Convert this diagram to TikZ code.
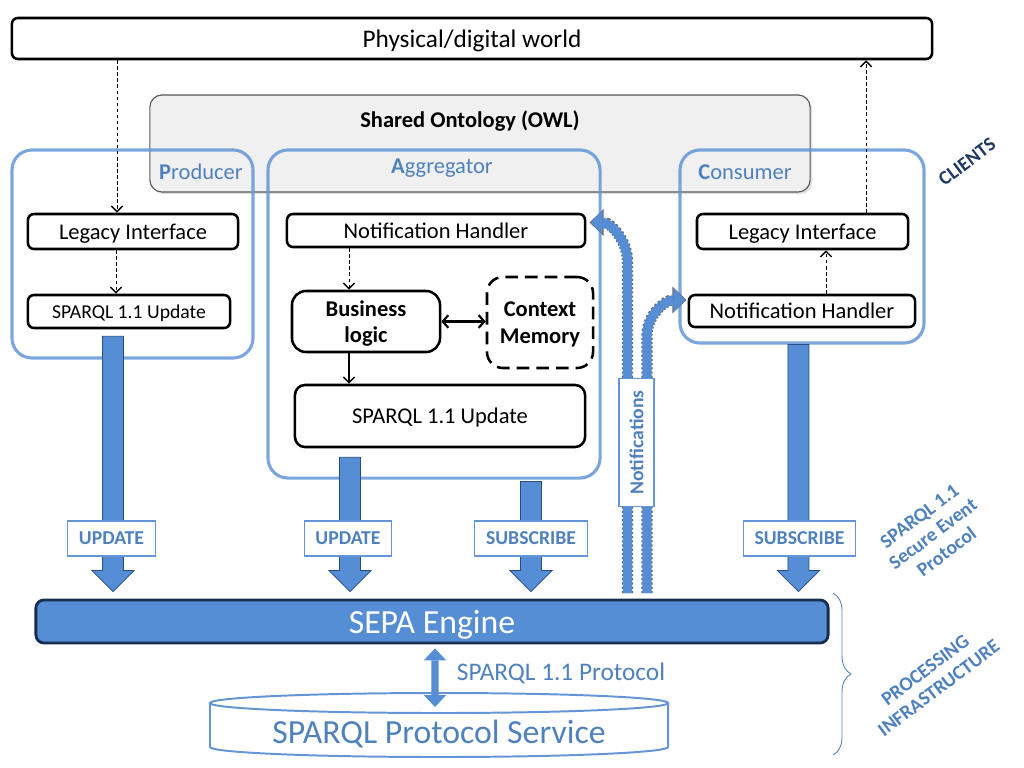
\documentclass[tikz,border=0pt]{standalone}
\usepackage{fontspec}
\setmainfont{Carlito}
\usetikzlibrary{calc,arrows.meta,decorations.pathreplacing,shadows}

\definecolor{clientblue}{RGB}{100,150,215}
\definecolor{labelblue}{RGB}{79,129,189}
\definecolor{busblue}{RGB}{85,142,213}
\definecolor{busline}{RGB}{40,75,130}
\definecolor{enginenavy}{RGB}{23,45,80}
\definecolor{clientsnavy}{RGB}{31,56,100}
\definecolor{ontogray}{RGB}{240,240,240}

\tikzset{
  blkbox/.style={draw, line width=1.8pt, rounded corners=0.15cm, fill=white, inner sep=0pt, text depth=0pt},
  ontobox/.style={draw=black!65, line width=0.8pt, rounded corners=0.3cm, fill=ontogray,
    drop shadow={shadow xshift=1.5pt, shadow yshift=-1.5pt, opacity=0.25}},
  clientbox/.style={draw=clientblue, draw opacity=0.85, line width=2.2pt, rounded corners=0.5cm, inner sep=0pt},
  clientname/.style={text=labelblue, font=\fontsize{16}{19}\selectfont},
  buslabel/.style={draw=clientblue, line width=0.8pt, fill=white, text=labelblue,
    font=\bfseries\fontsize{14}{16}\selectfont, minimum height=0.875cm, inner xsep=8pt},
  busarrow/.style={draw=busline, line width=0.5pt, fill=busblue},
  dasharr/.style={dash pattern=on 2.5pt off 1.8pt, line width=0.6pt,
    -{Straight Barb[length=4pt,width=8pt,line width=1pt]}},
  tubeedge/.style={line width=8pt, draw=black!60, dash pattern=on 1.5pt off 1.5pt,
    -{Triangle[width=19pt,length=10pt,line width=0pt]}},
  tubefill/.style={line width=6.6pt, draw=busblue, shorten >=0.8pt,
    -{Triangle[width=17pt,length=8.5pt,line width=0pt]}},
  sidelabel/.style={text=labelblue, font=\bfseries\fontsize{14}{16}\selectfont, align=center, rotate=37}
}

% vertical fat arrow from #1 down to the level of #2
\newcommand{\busarrow}[2]{%
  \draw[busarrow] ($(#1)+(-10.5,0)$) -- ($(#1)+(10.5,0)$)
    -- ($(#2)+(10.5,-28)$) -- ($(#2)+(21,-28)$) -- ($(#2)+(0,-7)$)
    -- ($(#2)+(-21,-28)$) -- ($(#2)+(-10.5,-28)$) -- cycle;}

\begin{document}
\begin{tikzpicture}[x=0.025cm, y=-0.025cm]

    \useasboundingbox (0,0) rectangle (1024,768);

    % World and shared ontology
    \node[blkbox, minimum width=23cm, minimum height=1.025cm, font=\fontsize{18}{21}\selectfont] (world) at (472,38.5) {Physical/digital world};
    \node[ontobox, minimum width=16.5cm, minimum height=2.425cm] (onto) at (480,143.5) {};
    \node[font=\bfseries\fontsize{16}{19}\selectfont] (ontoname) at (470,121) {Shared Ontology (OWL)};

    % Client frames
    \node[clientbox, minimum width=6.025cm, minimum height=5.2cm] (prod) at (132.5,254) {};
    \node[clientbox, minimum width=8.3cm, minimum height=8.2cm] (agg) at (434,314) {};
    \node[clientbox, minimum width=6.1cm, minimum height=4.825cm] (cons) at (802,246.5) {};
    \node[clientname] (prodname) at (201,172) {\textbf{P}roducer};
    \node[clientname] (aggname) at (442,168) {\textbf{A}ggregator};
    \node[clientname] (consname) at (745,172) {\textbf{C}onsumer};

    % Producer
    \node[blkbox, minimum width=5.25cm, minimum height=0.875cm, font=\fontsize{16}{19}\selectfont] (pli) at (133,231.5) {Legacy Interface};
    \node[blkbox, minimum width=5.05cm, minimum height=0.825cm, font=\fontsize{14}{17}\selectfont] (pupd) at (129,311.5) {SPARQL 1.1 Update};

    % Aggregator
    \node[blkbox, minimum width=7.45cm, minimum height=0.825cm, font=\fontsize{16}{19}\selectfont] (anh) at (436,230.5) {Notification Handler};
    \node[blkbox, rounded corners=0.35cm, minimum width=3.7cm, minimum height=1.525cm, align=center,
          font=\bfseries\fontsize{16}{18.5}\selectfont] (biz) at (366,321.5) {Business\\logic};
    \node[blkbox, dash pattern=on 9pt off 5pt, rounded corners=0.4cm, minimum width=2.65cm, minimum height=2.275cm,
          align=center, font=\bfseries\fontsize{16}{19}\selectfont] (ctx) at (540,322.5) {Context\\Memory};
    \node[blkbox, rounded corners=0.25cm, minimum width=7.25cm, minimum height=1.55cm, font=\fontsize{16}{19}\selectfont] (aupd) at (440,416) {SPARQL 1.1 Update};

    % Consumer
    \node[blkbox, minimum width=5.275cm, minimum height=0.875cm, font=\fontsize{16}{19}\selectfont] (cli) at (802.5,231.5) {Legacy Interface};
    \node[blkbox, minimum width=5.65cm, minimum height=0.8cm, font=\fontsize{16}{19}\selectfont] (cnh) at (802,311) {Notification Handler};

    % Local flows
    \coordinate (pin) at ([xshift=-0.4cm]pli.north);
    \draw[dasharr] (world.south -| pin) -- (pin);
    \draw[dasharr] ([xshift=-0.425cm]pli.south) -- ([xshift=-0.425cm]pli.south |- pupd.north);
    \draw[dasharr] ([xshift=-0.425cm]biz.north |- anh.south) -- ([xshift=-0.425cm]biz.north);
    \draw[line width=0.8pt, -{Straight Barb[length=4pt,width=8pt,line width=1pt]}] ([xshift=-0.425cm]biz.south) -- ([xshift=-0.425cm]biz.south |- aupd.north);
    \draw[line width=1.5pt, {Straight Barb[length=4pt,width=9pt]}-{Straight Barb[length=4pt,width=9pt]}] (biz.east) -- (biz.east -| ctx.west);
    \draw[dasharr] ([xshift=0.6cm]cnh.north) -- ([xshift=0.6cm]cnh.north |- cli.south);
    \coordinate (cout) at ([xshift=1.5875cm]cli.north);
    \draw[dasharr] (cout) -- (cout |- world.south);

    % SEPA engine
    \node[draw=enginenavy, line width=2pt, rounded corners=0.2cm, fill=busblue, text=white, text depth=0pt,
          minimum width=19.8cm, minimum height=1.075cm, font=\fontsize{24}{28}\selectfont] (sepa) at (432,621.5) {SEPA Engine};

    % Update / subscribe arrows
    \coordinate (prodbus) at ([xshift=-0.4cm,yshift=-0.175cm]pupd.south);
    \coordinate (prodbusend) at (prodbus |- sepa.north);
    \busarrow{prodbus}{prodbusend}
    \coordinate (aggbus) at ([xshift=-2.25cm,yshift=-0.225cm]aupd.south);
    \coordinate (aggbusend) at (aggbus |- sepa.north);
    \busarrow{aggbus}{aggbusend}
    \coordinate (aggsub) at ([xshift=2.425cm,yshift=-0.05cm]agg.south);
    \coordinate (aggsubend) at (aggsub |- sepa.north);
    \busarrow{aggsub}{aggsubend}
    \coordinate (conssub) at ([xshift=-0.09cm]cons.south);
    \coordinate (conssubend) at (conssub |- sepa.north);
    \busarrow{conssub}{conssubend}

    \node[buslabel] (produpd) at (111.5,538.5) {UPDATE};
    \node[buslabel] (aggupd) at (348,538.5) {UPDATE};
    \node[buslabel] (aggsubs) at (531,538.5) {SUBSCRIBE};
    \node[buslabel] (conssubs) at (799.5,538.5) {SUBSCRIBE};

    % Notifications back to the clients
    \coordinate (tubea) at (627.5,593);
    \coordinate (tubeb) at (647,593);
    \draw[tubeedge] (tubea) -- (627.5,262) to[out=90,in=0] ([shift={(0.08cm,0.2cm)}]anh.east);
    \draw[tubefill] (tubea) -- (627.5,262) to[out=90,in=0] ([shift={(0.08cm,0.2cm)}]anh.east);
    \draw[tubeedge] (tubeb) -- (647,335) to[out=90,in=180] ([shift={(-0.03cm,0.275cm)}]cnh.west);
    \draw[tubefill] (tubeb) -- (647,335) to[out=90,in=180] ([shift={(-0.03cm,0.275cm)}]cnh.west);
    \node[buslabel, rotate=90, inner xsep=8.5pt] (notif) at (636.5,442.5) {Notifications};

    % SPARQL protocol service
    \draw[draw=clientblue, line width=1.4pt, fill=white] (210,703) -- (210,747)
        arc[start angle=180, end angle=360, x radius=5.725cm, y radius=0.25cm] -- (668,703);
    \draw[draw=clientblue, line width=1.4pt, fill=white] (439,703) ellipse[x radius=5.725cm, y radius=0.25cm];
    \node[text=labelblue, font=\fontsize{24}{28}\selectfont] (svc) at (439,734) {SPARQL Protocol Service};
    \coordinate (cyltop) at (435,707);
    \draw[line width=5pt, draw=busblue, {Triangle[width=16pt,length=8.5pt,line width=0pt]}-{Triangle[width=16pt,length=8.5pt,line width=0pt]}]
        ([xshift=0.075cm,yshift=-0.1cm]sepa.south) -- (cyltop);
    \node[text=labelblue, font=\fontsize{18}{21}\selectfont] (proto) at (561,673) {SPARQL 1.1 Protocol};

    % Layer labels
    \draw[decorate, decoration={brace, amplitude=0.45cm}, draw=labelblue, line width=0.6pt] (833,593) -- (833,755);
    \node[sidelabel, text=clientsnavy] (clients) at (967,162) {CLIENTS};
    \node[sidelabel] (sep) at (933,534) {SPARQL 1.1\\Secure Event\\Protocol};
    \node[sidelabel] (infra) at (932,679) {PROCESSING\\INFRASTRUCTURE};

\end{tikzpicture}
\end{document}
